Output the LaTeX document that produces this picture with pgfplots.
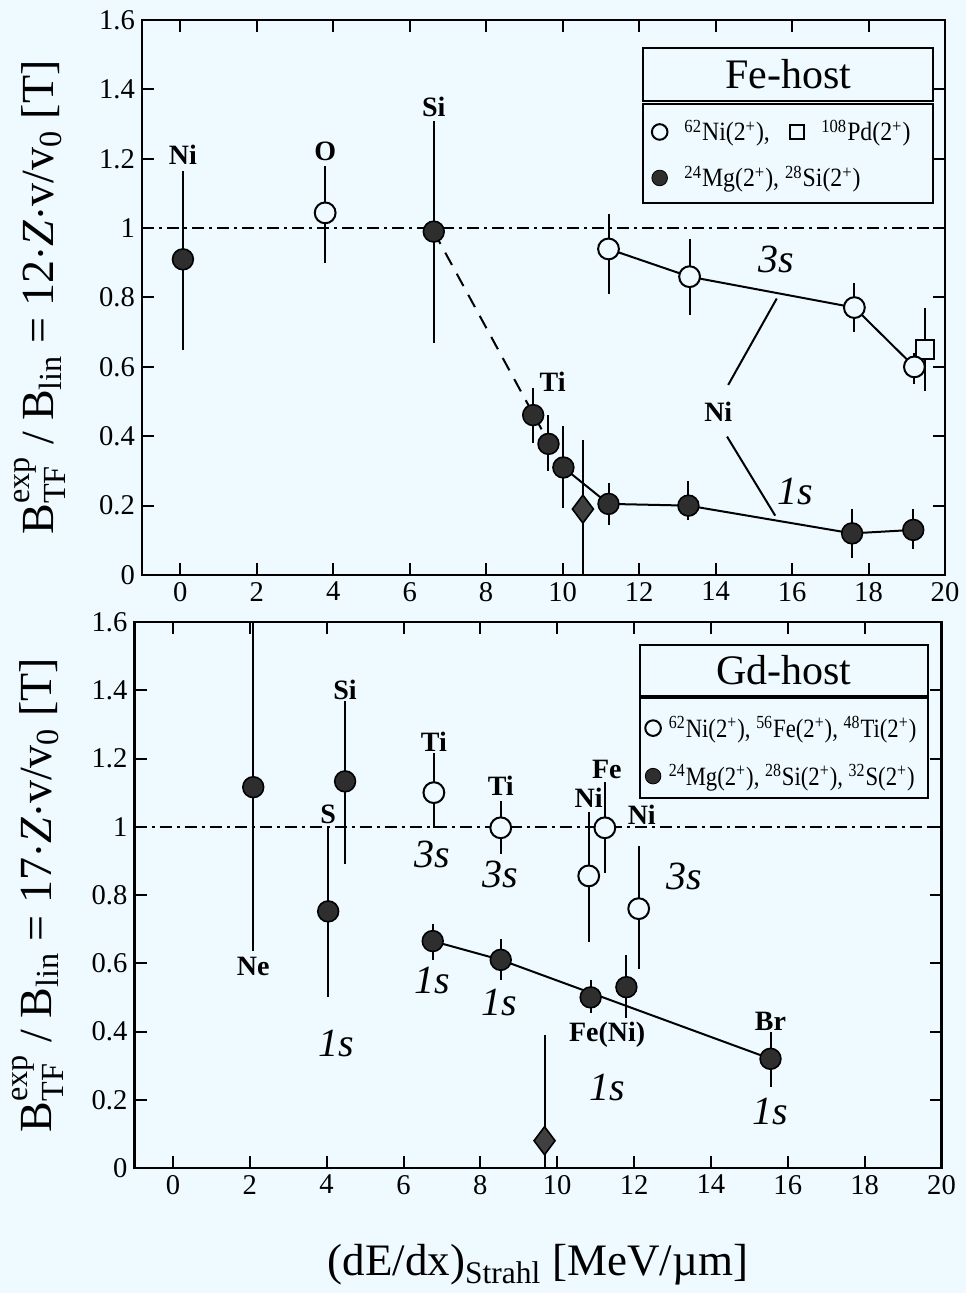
\documentclass[border=0pt]{standalone}
\usepackage{amsmath}
\usepackage{pgfplots}
\pgfplotsset{compat=1.18}
\usepackage{fontspec}
\setmainfont{Liberation Serif}
\definecolor{bg}{RGB}{238,250,255}
\newcommand\tp{(2\textsuperscript{+})}
\newcommand\iso[2]{\textsuperscript{#1}#2}
\newcommand\legfont{\fontsize{13.2}{15}\selectfont\addfontfeatures{FakeStretch=0.9}}
\newcommand\legfontb{\fontsize{13.2}{15}\selectfont\addfontfeatures{FakeStretch=0.86}}
\tikzset{
  elab/.style={font=\bfseries\fontsize{14}{16}\selectfont},
  orb/.style={font=\itshape\fontsize{20}{22}\selectfont},
}
\begin{document}
\begin{tikzpicture}
\fill[bg] (0,0) rectangle (483pt,-646.5pt);
\path[use as bounding box] (0,0) rectangle (483pt,-646.5pt);
\pgfplotsset{
  myaxis/.style={
    scale only axis,
    xmin=-1, xmax=20, ymin=0, ymax=1.6,
    xtick={0,2,4,6,8,10,12,14,16,18,20},
    ytick={0,0.2,0.4,0.6,0.8,1,1.2,1.4,1.6},
    tick align=inside, major tick length=6pt,
    axis line style={line width=1.2pt},
    every tick/.style={line width=1pt, black},
    tick label style={font=\fontsize{14.3}{16}\selectfont},
    /pgf/number format/assume math mode=true,
    label style={font=\fontsize{23}{26}\selectfont},
    legend cell align=left,
  },
  ebars/.style={error bars/y dir=both, error bars/y explicit, error bars/error mark=none,
    error bars/error bar style={line width=1pt, black}},
  filled/.style={only marks, mark=*, mark size=5.2pt,
    mark options={fill=black!82, draw=black, line width=0.8pt}, ebars},
  openc/.style={only marks, mark=*, mark size=5.2pt,
    mark options={fill=bg, draw=black, line width=1pt}, ebars},
  dia/.style={only marks, mark=diamond*, mark size=7pt,
    mark options={fill=black!75, draw=black, line width=0.8pt}, ebars},
  sq/.style={only marks, mark=square*, mark size=4.6pt,
    mark options={fill=bg, draw=black, line width=1pt}, ebars},
  dashdot/.style={line width=0.9pt, black, dash pattern=on 6pt off 2.5pt on 1.5pt off 2.5pt},
  conn/.style={line width=1pt, black, no marks},
}
% ---------------- top: Fe-host ----------------
\begin{axis}[myaxis, at={(71pt,-10pt)}, anchor=north west,
  width=401.5pt, height=277.5pt,
  ylabel={B$^{\text{exp}}_{\text{TF}}$ / B$_{\text{lin}}$ = 12$\cdot$\textit{Z}$\cdot$v/v$_{\text{0}}$ [T]},
  ylabel style={at={(axis description cs:-0.127,0.5)}, anchor=center},
  legend columns=2,
  legend style={at={(rel axis cs:0.627,0.835)}, anchor=north west, draw=none, fill=none,
    font=\legfont, /tikz/row sep=7pt,
    /tikz/every odd column/.append style={column sep=6.5pt},
    /tikz/every even column/.append style={column sep=8pt}},
]
\addlegendimage{only marks, mark=*, mark size=3.9pt, mark options={fill=bg, draw=black, line width=1pt}}
\addlegendentry{\iso{62}{Ni}\tp,}
\addlegendimage{only marks, mark=square*, mark size=3.6pt, mark options={fill=bg, draw=black, line width=1pt}}
\addlegendentry{\iso{108}{Pd}\tp}
\addlegendimage{only marks, mark=*, mark size=3.9pt, mark options={fill=black!82, draw=black}}
\addlegendentry{\makebox[0pt][l]{\iso{24}{Mg}\tp, \iso{28}{Si}\tp}}

\addplot[dashdot, forget plot] coordinates {(-1,1) (20,1)};
\addplot[conn, dash pattern=on 7pt off 5pt, forget plot] coordinates {(6.63,0.99) (9.45,0.42)};
\addplot[conn, forget plot] coordinates {(11.2,0.94) (13.32,0.86) (17.63,0.771) (19.2,0.60)};
\addplot[conn, forget plot] coordinates {(10.02,0.31) (11.2,0.205) (13.29,0.20) (17.57,0.12) (19.17,0.13)};
\addplot[conn, forget plot] coordinates {(14.33,0.548) (15.6,0.797)};
\addplot[conn, forget plot] coordinates {(14.3,0.399) (15.56,0.171)};

\addplot[filled, forget plot] coordinates {
 (0.07,0.91) += (0,0.255) -= (0,0.26)
 (6.63,0.99) += (0,0.32) -= (0,0.32)
 (9.23,0.461) += (0,0.079) -= (0,0.08)
 (9.63,0.378) += (0,0.083) -= (0,0.078)
 (10.02,0.31) += (0,0.119) -= (0,0.117)
 (11.2,0.205) += (0,0.06) -= (0,0.06)
 (13.29,0.20) += (0,0.07) -= (0,0.04)
 (17.57,0.12) += (0,0.07) -= (0,0.07)
 (19.17,0.13) += (0,0.06) -= (0,0.055)
};
\addplot[dia, forget plot] coordinates {(10.53,0.19) += (0,0.2) -= (0,0.19)};
\addplot[sq, forget plot] coordinates {(19.48,0.65) += (0,0.12) -= (0,0.12)};
\addplot[openc, forget plot] coordinates {
 (3.79,1.044) += (0,0.136) -= (0,0.144)
 (11.2,0.94) += (0,0.10) -= (0,0.13)
 (13.32,0.86) += (0,0.108) -= (0,0.11)
 (17.63,0.771) += (0,0.07) -= (0,0.071)
 (19.2,0.60) += (0,0.04) -= (0,0.05)
};

\node[elab] at (axis cs:0.07,1.21) {Ni};
\node[elab] at (axis cs:3.79,1.22) {O};
\node[elab] at (axis cs:6.63,1.35) {Si};
\node[elab] at (axis cs:9.74,0.558) {Ti};
\node[elab] at (axis cs:14.07,0.47) {Ni};
\node[orb] at (axis cs:15.6,0.91) {3s};
\node[orb] at (axis cs:16.08,0.24) {1s};

\draw[line width=1pt, fill=bg] (rel axis cs:0.624,0.95) rectangle (rel axis cs:0.985,0.854);
\node at (rel axis cs:0.8045,0.902) {\fontsize{21}{24}\selectfont Fe-host};
\draw[line width=1pt] (rel axis cs:0.624,0.849) rectangle (rel axis cs:0.985,0.67);
\end{axis}

% ---------------- bottom: Gd-host ----------------
\begin{axis}[myaxis, at={(67.25pt,-311pt)}, anchor=north west,
  width=403.5pt, height=273pt,
  ylabel={B$^{\text{exp}}_{\text{TF}}$ / B$_{\text{lin}}$ = 17$\cdot$\textit{Z}$\cdot$v/v$_{\text{0}}$ [T]},
  ylabel style={at={(axis description cs:-0.12,0.5)}, anchor=center},
  xlabel={(dE/dx)$_{\text{Strahl}}$ [MeV/\textmu m]},
  xlabel style={at={(axis description cs:0.5,0)}, anchor=center, yshift=-48.5pt, font=\fontsize{22.5}{25}\selectfont},
  legend style={at={(rel axis cs:0.625,0.843)}, anchor=north west, draw=none, fill=none,
    font=\legfontb, /tikz/row sep=8pt,
    /tikz/every odd column/.append style={column sep=2pt}},
]
\addlegendimage{only marks, mark=*, mark size=3.9pt, mark options={fill=bg, draw=black, line width=1pt}}
\addlegendentry{\iso{62}{Ni}\tp, \iso{56}{Fe}\tp, \iso{48}{Ti}\tp}
\addlegendimage{only marks, mark=*, mark size=3.9pt, mark options={fill=black!82, draw=black}}
\addlegendentry{\iso{24}{Mg}\tp, \iso{28}{Si}\tp, \iso{32}{S}\tp}

\addplot[dashdot, forget plot] coordinates {(-1,1) (20,1)};
\addplot[conn, forget plot] coordinates {(6.76,0.665) (8.53,0.61) (15.55,0.32)};

\addplot[filled, forget plot] coordinates {
 (2.09,1.116) += (0,0.6) -= (0,0.479)
 (4.04,0.752) += (0,0.248) -= (0,0.252)
 (4.48,1.133) += (0,0.236) -= (0,0.243)
 (6.76,0.665) += (0,0.05) -= (0,0.055)
 (8.53,0.61) += (0,0.06) -= (0,0.06)
 (10.87,0.50) += (0,0.05) -= (0,0.045)
 (11.8,0.53) += (0,0.095) -= (0,0.09)
 (15.55,0.32) += (0,0.08) -= (0,0.082)
};
\addplot[dia, forget plot] coordinates {(9.67,0.08) += (0,0.31) -= (0,0.08)};
\addplot[openc, forget plot] coordinates {
 (6.79,1.10) += (0,0.117) -= (0,0.105)
 (8.53,0.997) += (0,0.079) -= (0,0.077)
 (10.82,0.856) += (0,0.188) -= (0,0.193)
 (11.24,0.997) += (0,0.133) -= (0,0.132)
 (12.12,0.76) += (0,0.184) -= (0,0.176)
};

\node[elab] at (axis cs:2.09,0.59) {Ne};
\node[elab] at (axis cs:4.04,1.035) {S};
\node[elab] at (axis cs:4.48,1.40) {Si};
\node[elab] at (axis cs:6.79,1.25) {Ti};
\node[elab] at (axis cs:8.53,1.12) {Ti};
\node[elab] at (axis cs:10.82,1.085) {Ni};
\node[elab] at (axis cs:11.29,1.167) {Fe};
\node[elab] at (axis cs:12.2,1.035) {Ni};
\node[elab] at (axis cs:11.3,0.39) {Fe(Ni)};
\node[elab] at (axis cs:15.55,0.43) {Br};
\node[orb] at (axis cs:6.76,0.92) {3s};
\node[orb] at (axis cs:8.53,0.86) {3s};
\node[orb] at (axis cs:13.3,0.853) {3s};
\node[orb] at (axis cs:4.25,0.366) {1s};
\node[orb] at (axis cs:6.74,0.55) {1s};
\node[orb] at (axis cs:8.5,0.485) {1s};
\node[orb] at (axis cs:11.3,0.237) {1s};
\node[orb] at (axis cs:15.55,0.165) {1s};

\draw[line width=1pt, fill=bg] (rel axis cs:0.626,0.958) rectangle (rel axis cs:0.983,0.864);
\node at (rel axis cs:0.8045,0.911) {\fontsize{21}{24}\selectfont Gd-host};
\draw[line width=1pt] (rel axis cs:0.626,0.861) rectangle (rel axis cs:0.983,0.678);
\end{axis}
\end{tikzpicture}
\end{document}
